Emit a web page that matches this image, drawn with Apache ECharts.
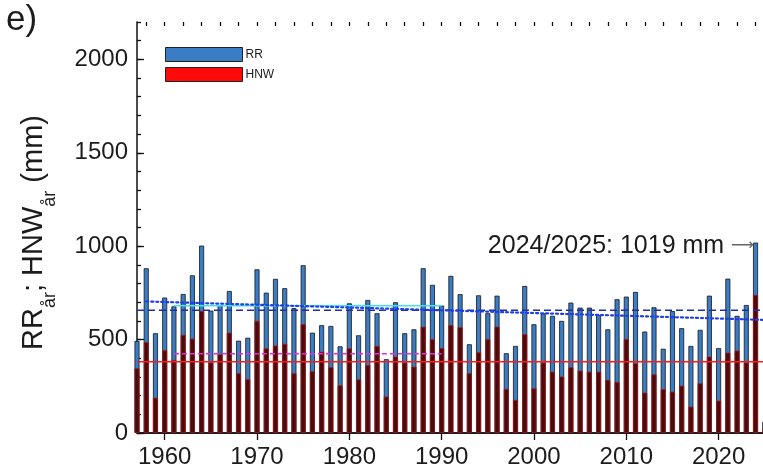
<!DOCTYPE html>
<html>
<head>
<meta charset="utf-8">
<script src="https://cdn.jsdelivr.net/npm/echarts@6.0.0/dist/echarts.min.js"></script>
<style>
  html, body { margin: 0; padding: 0; background: #fff; }
  #chart { width: 763px; height: 471px; }
</style>
</head>
<body>
<div id="chart"></div>
<script>
// Hydrological years (bar position = first calendar year of the season)
const years = [];
for (let y = 1957; y <= 2025; y++) years.push(y);

// Annual precipitation RR (mm)
const rr = [493, 882, 534, 725,
  678, 744, 844, 1003, 655, 685, 760, 494, 510, 876,
  751, 825, 775, 668, 898, 537, 577, 573, 464, 694,
  523, 712, 641, 395, 700, 534, 555, 882, 793, 682,
  841, 743, 475, 737, 641, 735, 427, 466, 787, 582,
  641, 627, 600, 698, 671, 671, 632, 555, 716, 730,
  755, 543, 673, 451, 653, 561, 466, 552, 735, 454,
  826, 627, 685, 1019, 60];

// Annual new-snow water equivalent HNW (mm)
const hnw = [346, 486, 189, 444,
  391, 525, 505, 653, 377, 421, 537, 320, 288, 600,
  453, 468, 477, 320, 582, 330, 435, 352, 255, 453,
  287, 364, 466, 195, 409, 377, 355, 569, 502, 455,
  578, 566, 320, 432, 502, 569, 236, 177, 529, 239,
  377, 328, 302, 352, 334, 328, 328, 284, 273, 503,
  373, 216, 314, 234, 221, 253, 141, 266, 409, 173,
  430, 441, 377, 739, 25];

const xLabels = [1960, 1970, 1980, 1990, 2000, 2010, 2020];
const yLabels = [0, 500, 1000, 1500, 2000];
const statsEnd = 2023;          // statistics use the seasons before the highlighted one
const refStart = 1961, refEnd = 1990;
const xMin = 1957, xMax = 2026, yMax = 2200;

const FONT = '"Liberation Sans", Arial, Helvetica, sans-serif';
const TXT = '#1c1c1c';

function mean(arr, from, to) {
  let s = 0, n = 0;
  years.forEach((y, i) => { if (y >= from && y <= to) { s += arr[i]; n++; } });
  return s / n;
}
function trend(arr, from, to) {
  const xs = [], ys = [];
  years.forEach((y, i) => { if (y >= from && y <= to) { xs.push(y); ys.push(arr[i]); } });
  const n = xs.length;
  const mx = xs.reduce((a, b) => a + b, 0) / n;
  const my = ys.reduce((a, b) => a + b, 0) / n;
  let sxy = 0, sxx = 0;
  for (let i = 0; i < n; i++) { sxy += (xs[i] - mx) * (ys[i] - my); sxx += (xs[i] - mx) ** 2; }
  const b = sxy / sxx;
  return x => my + b * (x - mx);
}

const rrMean = mean(rr, years[0], statsEnd);
const hnwMean = mean(hnw, years[0], statsEnd);
const rrRef = mean(rr, refStart, refEnd);
const hnwRef = mean(hnw, refStart, refEnd);
const rrTrend = trend(rr, years[0], statsEnd);

const maxIdx = rr.indexOf(Math.max(...rr));

const rrData = years.map((y, i) => {
  const item = { value: [y, rr[i]] };
  if (i === maxIdx) {
    item.label = {
      show: true,
      position: [1, 3],
      align: 'right',
      verticalAlign: 'middle',
      formatter: p => '{t|' + p.value[0] + '/' + (p.value[0] + 1) + ': ' + p.value[1] + ' mm }{a|⟶}',
      rich: {
        t: { fontFamily: FONT, fontSize: 25, color: TXT },
        a: { fontFamily: '"DejaVu Sans", sans-serif', fontSize: 16, color: '#666' }
      }
    };
  }
  return item;
});
const hnwData = years.map((y, i) => [y, hnw[i]]);

const evenYears = [];
for (let y = 1958; y <= 2024; y += 2) evenYears.push(y);
const hundreds = [];
for (let v = 0; v <= yMax; v += 100) hundreds.push(v);

const frame = { show: true, lineStyle: { color: '#111', width: 1.5 } };
const tickStyle = { color: '#111', width: 1.3 };
const plain = v => String(v);

function hline(value, from, to, color, type, width) {
  return {
    type: 'line', xAxisIndex: 0, yAxisIndex: 0, symbol: 'none', silent: true, z: 5,
    data: [[from, value], [to, value]],
    lineStyle: { color: color, type: type, width: width }
  };
}

const chart = echarts.init(document.getElementById('chart'), null, { renderer: 'canvas' });
chart.setOption({
  animation: false,
  backgroundColor: '#fff',
  title: {
    text: 'e)', left: 6, top: 3, padding: 0,
    textStyle: { fontFamily: FONT, fontSize: 35, fontWeight: 'normal', color: TXT }
  },
  legend: {
    orient: 'vertical', left: 165, top: 47, padding: 0,
    itemWidth: 77, itemHeight: 14, itemGap: 5,
    icon: 'rect',
    textStyle: { fontFamily: FONT, fontSize: 12, color: TXT, padding: [0, 0, 0, -2] },
    data: [
      { name: 'RR', itemStyle: { color: '#3a7dc4', borderColor: '#222', borderWidth: 1 } },
      { name: 'HNW', itemStyle: { color: '#ff0a0a', borderColor: '#222', borderWidth: 1 } }
    ]
  },
  grid: { left: 137, top: 22, width: 637, bottom: 38, containLabel: false, outerBoundsMode: 'none' },
  xAxis: [
    {
      type: 'value', min: xMin, max: xMax, position: 'bottom',
      axisLine: frame,
      axisTick: { show: true, inside: true, length: 7, customValues: xLabels, lineStyle: tickStyle },
      axisLabel: { customValues: xLabels, formatter: plain, fontFamily: FONT, fontSize: 24, color: TXT, margin: 12 },
      splitLine: { show: false }
    },
    {
      type: 'value', min: xMin, max: xMax, position: 'top',
      axisLine: frame,
      axisTick: { show: true, inside: true, length: 7, customValues: xLabels, lineStyle: tickStyle },
      axisLabel: { show: false }, splitLine: { show: false }
    },
    {
      type: 'value', min: xMin, max: xMax, position: 'top',
      axisLine: { show: false },
      axisTick: { show: true, inside: true, length: 4, customValues: evenYears, lineStyle: tickStyle },
      axisLabel: { show: false }, splitLine: { show: false }
    }
  ],
  yAxis: [
    {
      type: 'value', min: 0, max: yMax, position: 'left',
      axisLine: frame,
      axisTick: { show: true, inside: true, length: 7, customValues: yLabels, lineStyle: tickStyle },
      axisLabel: { customValues: yLabels, formatter: plain, fontFamily: FONT, fontSize: 24, color: TXT, margin: 9 },
      splitLine: { show: false },
      name: '{n|RR}{s|år}{n|; HNW}{s|år}{n| (mm)}',
      nameLocation: 'middle', nameRotate: 90, nameGap: 78,
      nameTextStyle: {
        padding: [0, 10, 0, 0],
        rich: {
          n: { fontFamily: FONT, fontSize: 29, color: TXT, lineHeight: 40, verticalAlign: 'top' },
          s: { fontFamily: FONT, fontSize: 18, color: TXT, lineHeight: 1, verticalAlign: 'bottom' }
        }
      }
    },
    {
      type: 'value', min: 0, max: yMax, position: 'left',
      axisLine: { show: false },
      axisTick: { show: true, inside: true, length: 4, customValues: hundreds, lineStyle: tickStyle },
      axisLabel: { show: false }, splitLine: { show: false }
    }
  ],
  series: [
    {
      name: 'RR', type: 'bar', xAxisIndex: 0, yAxisIndex: 0,
      barWidth: 5, barGap: '-100%', z: 2, clip: true,
      itemStyle: { color: '#3a7dc4', borderColor: '#151515', borderWidth: 0.8 },
      data: rrData
    },
    {
      name: 'HNW', type: 'bar', xAxisIndex: 0, yAxisIndex: 0,
      barWidth: 5, barGap: '-100%', z: 3, clip: true,
      itemStyle: { color: '#4a0b0c', borderColor: '#a8161b', borderWidth: 0.8 },
      data: hnwData
    },
    hline(hnwMean, xMin, xMax, '#ff1a1a', 'solid', 1.5),
    hline(hnwRef, refStart, refEnd, '#e02ee0', [5, 3], 1.6),
    hline(rrRef, refStart, refEnd, '#3fe3ef', 'solid', 1.6),
    hline(rrMean, xMin, xMax, '#1f2fa8', [7, 4], 1.5),
    {
      type: 'line', xAxisIndex: 0, yAxisIndex: 0, symbol: 'none', silent: true, z: 6,
      data: [[years[1], rrTrend(years[1])], [xMax, rrTrend(xMax)]],
      lineStyle: { color: '#1e3cf0', type: [2, 3], width: 2.2, cap: 'round' }
    }
  ]
});
</script>
</body>
</html>
